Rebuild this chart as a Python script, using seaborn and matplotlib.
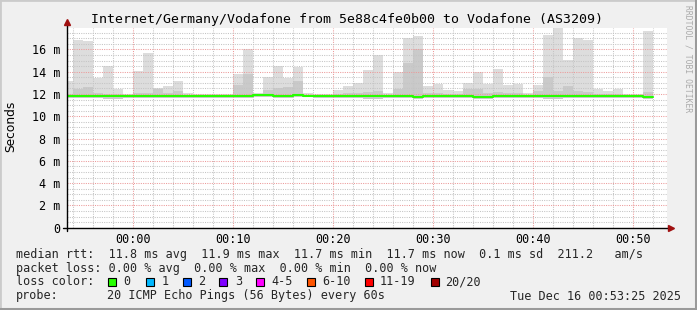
import matplotlib
matplotlib.use("Agg")
import numpy as np
import pandas as pd
import matplotlib.pyplot as plt
import seaborn as sns
from matplotlib.patches import Rectangle
from matplotlib.lines import Line2D

# ---------------- data ----------------
title = "Internet/Germany/Vodafone from 5e88c4fe0b00 to Vodafone (AS3209)"
minutes = list(range(-7, 52))  # start of each 1-minute step, minutes after 00:00
rtt_max = [13.14, 16.83, 16.74, 13.44, 14.49, 12.42, 12.03,
           14.04, 15.66, 12.54, 12.69, 13.14, 12.12, 11.97, 11.97, 11.97, 11.97,
           13.84, 16.03, 12.06, 13.50, 14.50, 13.44, 14.43, 12.06, 11.97, 11.97,
           12.39, 12.69, 13.00, 14.14, 15.49, 12.12, 13.99, 17.06, 17.19, 12.69,
           12.94, 12.33, 12.24, 13.03, 13.99, 12.94, 14.23, 12.85, 12.87, 12.12,
           12.78, 17.29, 17.95, 15.03, 17.05, 16.84, 12.42, 12.27, 12.48, 11.97,
           12.03, 17.65]
rtt_mid = [12.00, 12.48, 12.60, 12.05, 12.00, 12.00, 11.95,
           12.10, 12.12, 12.45, 12.10, 12.24, 11.95, 11.90, 11.90, 11.90, 11.90,
           12.78, 13.78, 11.95, 12.33, 12.55, 12.60, 13.14, 11.95, 11.90, 11.90,
           12.00, 12.05, 12.10, 12.20, 12.30, 11.95, 12.48, 14.75, 16.00, 12.10,
           12.10, 12.00, 12.00, 12.48, 12.48, 12.10, 12.20, 12.10, 12.10, 11.95,
           12.25, 13.53, 12.30, 12.72, 12.30, 12.20, 12.00, 12.00, 12.00, 11.90,
           11.95, 12.20]
rtt_min = [11.65, 11.65, 11.65, 11.65, 11.55, 11.55, 11.65,
           11.65, 11.65, 11.65, 11.65, 11.65, 11.65, 11.65, 11.65, 11.65, 11.65,
           11.65, 11.65, 11.70, 11.70, 11.65, 11.65, 11.70, 11.70, 11.65, 11.65,
           11.65, 11.65, 11.65, 11.60, 11.60, 11.65, 11.65, 11.65, 11.58, 11.65,
           11.65, 11.65, 11.65, 11.65, 11.60, 11.60, 11.65, 11.65, 11.65, 11.65,
           11.65, 11.60, 11.60, 11.65, 11.65, 11.65, 11.65, 11.65, 11.65, 11.65,
           11.65, 11.60]
rtt_median = [11.78, 11.78, 11.78, 11.78, 11.78, 11.78, 11.78,
              11.80, 11.80, 11.80, 11.80, 11.80, 11.80, 11.80, 11.80, 11.80, 11.80,
              11.80, 11.80, 11.88, 11.88, 11.85, 11.85, 11.88, 11.83, 11.83, 11.83,
              11.80, 11.80, 11.80, 11.80, 11.80, 11.80, 11.80, 11.80, 11.74, 11.80,
              11.80, 11.80, 11.80, 11.80, 11.76, 11.76, 11.80, 11.80, 11.80, 11.80,
              11.80, 11.86, 11.84, 11.84, 11.84, 11.84, 11.84, 11.84, 11.80, 11.80,
              11.80, 11.74]
x_ticks = [0, 10, 20, 30, 40, 50]
x_tick_labels = ["00:00", "00:10", "00:20", "00:30", "00:40", "00:50"]
y_ticks = [0, 2, 4, 6, 8, 10, 12, 14, 16]
y_tick_labels = ["0", "2 m", "4 m", "6 m", "8 m", "10 m", "12 m", "14 m", "16 m"]
loss_labels = ["0", "1", "2", "3", "4-5", "6-10", "11-19", "20/20"]
loss_colors = ["#26ff00", "#00b8ff", "#0059ff", "#7e00ff", "#ff00ff", "#ff5500", "#ff0000", "#a10000"]
legend_rtt = "median rtt:  11.8 ms avg  11.9 ms max  11.7 ms min  11.7 ms now  0.1 ms sd  211.2   am/s"
legend_loss = "packet loss: 0.00 % avg  0.00 % max  0.00 % min  0.00 % now"
probe_text = "20 ICMP Echo Pings (56 Bytes) every 60s"
stamp_text = "Tue Dec 16 00:53:25 2025"
t_start, t_end = -6.583, 53.417

df = pd.DataFrame({"t": minutes, "max": rtt_max, "mid": rtt_mid,
                   "min": rtt_min, "median": rtt_median})

# ---------------- figure ----------------
sns.set_theme(style="white")
plt.rcParams["font.family"] = ["DejaVu Sans Mono", "DejaVu Sans"]
W, H = 697, 310
fig = plt.figure(figsize=(W / 100, H / 100), dpi=100, facecolor="#f0f0f0")

def fx(x):
    return x / W

def fy(y):
    return 1 - y / H

# border shading
fig.add_artist(Rectangle((0, 0), 1, 1, transform=fig.transFigure, fill=False,
                         edgecolor="#cbcbcb", lw=2))
fig.add_artist(Line2D([fx(0), fx(W)], [fy(H - 1.5), fy(H - 1.5)], color="#9a9a9a", lw=2.2,
                      transform=fig.transFigure))
fig.add_artist(Line2D([fx(W - 1.5), fx(W - 1.5)], [fy(0), fy(H)], color="#9a9a9a", lw=2.2,
                      transform=fig.transFigure))

L, R, T, B = 67, 667, 28, 227.7
ax = fig.add_axes([fx(L), fy(B), fx(R - L), fy(T) - fy(B)])
ax.set_facecolor("white")

# smoke layers
ax.bar(df["t"], df["max"] - df["min"], bottom=df["min"], width=1.0, align="edge",
       color="#dddddd", linewidth=0, zorder=1)
ax.bar(df["t"], df["mid"] - df["min"], bottom=df["min"], width=1.0, align="edge",
       color="#cacaca", linewidth=0, zorder=1.1)

# median line (steps)
med = pd.concat([df[["t", "median"]],
                 pd.DataFrame({"t": [df["t"].iloc[-1] + 1], "median": [df["median"].iloc[-1]]})])
sns.lineplot(data=med, x="t", y="median", ax=ax, drawstyle="steps-post",
             color=loss_colors[0], lw=1.5, zorder=3)

ax.set_xlim(t_start, t_end)
ax.set_ylim(0, 17.93)
ax.set_xlabel("")
ax.set_ylabel("")

# grid
ax.set_xticks(x_ticks)
ax.set_xticklabels(x_tick_labels)
ax.set_xticks(np.arange(-6, 54, 2), minor=True)
ax.set_yticks(y_ticks)
ax.set_yticklabels(y_tick_labels)
ax.set_yticks(np.arange(0.5, 18, 0.5), minor=True)
ax.set_axisbelow(False)
ax.grid(which="minor", color="#c4c4c4", lw=0.75, ls=(0, (1, 1.2)), zorder=2)
ax.grid(which="major", color="#ec9a9a", lw=0.75, ls=(0, (1, 1.2)), zorder=2)
ax.tick_params(axis="both", which="minor", length=0)
ax.tick_params(axis="y", which="major", length=3, width=0.8, color="#555555", pad=2,
               labelsize=8.5, labelcolor="black")
ax.tick_params(axis="x", which="major", length=2, width=0.8, color="#555555", pad=2,
               labelsize=8.5, labelcolor="black")

for s in ["top", "right", "left", "bottom"]:
    ax.spines[s].set_visible(False)

# axes with arrows
axcol = "black"
arrow_col = "#a01010"
fig.add_artist(Line2D([fx(L), fx(L)], [fy(B + 3), fy(T - 6)], color=axcol, lw=1,
                      transform=fig.transFigure))
fig.add_artist(Line2D([fx(L - 4), fx(R + 3)], [fy(B), fy(B)], color=axcol, lw=1,
                      transform=fig.transFigure))
fig.add_artist(Line2D([fx(L)], [fy(T - 6)], marker="^", ms=5, color=arrow_col,
                      transform=fig.transFigure, lw=0))
fig.add_artist(Line2D([fx(R + 4)], [fy(B)], marker=">", ms=5, color=arrow_col,
                      transform=fig.transFigure, lw=0))

# texts
fig.text(fx(347), fy(19.5), title, ha="center", va="center", fontsize=9.5, color="black")
fig.text(fx(11), fy(126), "Seconds", rotation=90, ha="center", va="center",
         fontsize=8.8, family="DejaVu Sans", color="black")
fig.text(fx(688), fy(5), "RRDTOOL / TOBI OETIKER", rotation=270, ha="center", va="top",
         fontsize=5.8, color="#aaaaaa")

fs = 8.5
fig.text(fx(16), fy(254.3), legend_rtt, ha="left", va="center", fontsize=fs)
fig.text(fx(16), fy(268.3), legend_loss, ha="left", va="center", fontsize=fs)
fig.text(fx(16), fy(281.7), "loss color:", ha="left", va="center", fontsize=fs)
sq_x = [108, 146, 183, 219, 256, 307, 365, 431]
lb_x = [123, 162, 198, 235, 271, 322, 380, 445]
for c, lab, sx, lx in zip(loss_colors, loss_labels, sq_x, lb_x):
    fig.add_artist(Rectangle((fx(sx), fy(286)), fx(8), fy(278) - fy(286),
                             transform=fig.transFigure, facecolor=c,
                             edgecolor="black", lw=0.8))
    fig.text(fx(lx), fy(281.7), lab, ha="left", va="center", fontsize=fs)
fig.text(fx(16), fy(296), "probe:", ha="left", va="center", fontsize=fs)
fig.text(fx(107), fy(296), probe_text, ha="left", va="center", fontsize=fs)
fig.text(fx(681), fy(296), stamp_text, ha="right", va="center", fontsize=fs)

fig.savefig("out.png", dpi=100, facecolor=fig.get_facecolor())
